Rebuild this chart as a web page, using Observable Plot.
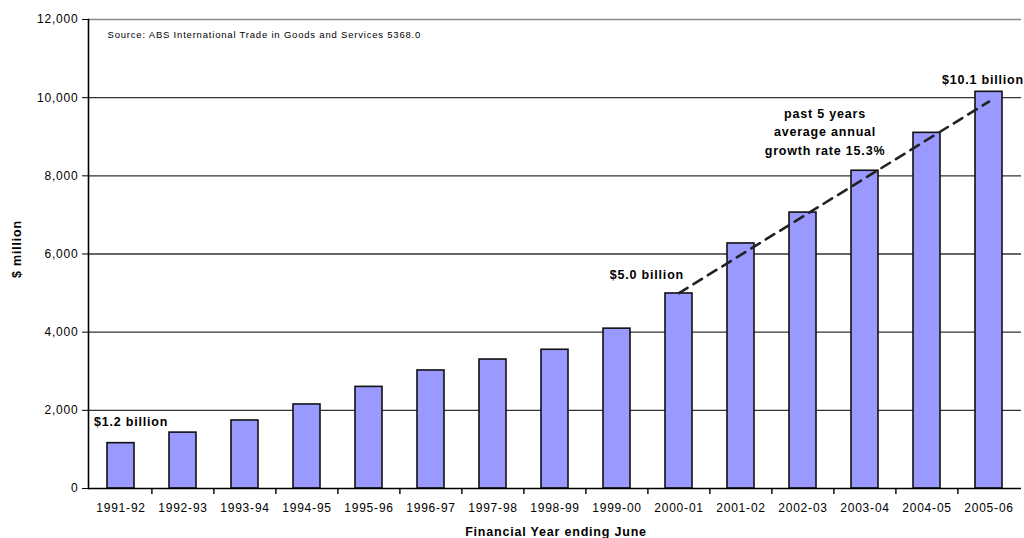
<!DOCTYPE html>
<html>
<head>
<meta charset="utf-8">
<script src="https://cdn.jsdelivr.net/npm/d3@7"></script>
<script src="https://cdn.jsdelivr.net/npm/@observablehq/plot@0.6"></script>
<style>
  html, body { margin: 0; padding: 0; background: #fff; }
  #chart svg { display: block; }
</style>
</head>
<body>
<div id="chart"></div>
<script>
// ---- data ----
const years = ["1991-92","1992-93","1993-94","1994-95","1995-96","1996-97","1997-98","1998-99","1999-00","2000-01","2001-02","2002-03","2003-04","2004-05","2005-06"];
const values = [1160, 1430, 1740, 2150, 2600, 3020, 3300, 3550, 4090, 4990, 6270, 7060, 8130, 9100, 10150];
const yTicks = [0, 2000, 4000, 6000, 8000, 10000, 12000];
const trendYears = ["2000-01", "2005-06"];
const trendValues = [5000, 9900];
const annoText = ["$1.2 billion", "$5.0 billion", "$10.1 billion", "past 5 years\naverage annual\ngrowth rate 15.3%"];
const annoYears = ["1991-92", "2000-01", "2005-06", "2002-03"];
const annoValues = [1700, 5450, 10460, 9170];
const sourceText = "Source: ABS International Trade in Goods and Services 5368.0";
const xTitle = "Financial Year ending June";
const yTitle = "$ million";

const data = years.map((year, i) => ({year, value: values[i]}));
const trend = trendYears.map((year, i) => ({year, value: trendValues[i]}));
const annos = annoText.map((text, i) => ({text, year: annoYears[i], value: annoValues[i]}));

// ---- layout ----
const W = 1024, H = 538, ML = 88, MR = 3, MT = 19, MB = 50;
const step = (W - ML - MR) / years.length;
const bold = {fontWeight: "bold", fontSize: 12.5};

const chart = Plot.plot({
  width: W, height: H,
  marginLeft: ML, marginRight: MR, marginTop: MT, marginBottom: MB,
  style: {fontFamily: "'Liberation Sans', Arial, sans-serif", fontSize: "12px", letterSpacing: "0.8px", background: "#fff", color: "#000"},
  x: {domain: years, paddingInner: 0.56, paddingOuter: 0.28, axis: null},
  y: {domain: [0, 12000], axis: null},
  marks: [
    Plot.ruleY(yTicks.filter(v => v > 0 && v < 12000), {stroke: "#333", strokeWidth: 1.4}),
    Plot.ruleY([12000], {stroke: "#8a8a8a", strokeWidth: 1.4}),
    Plot.barY(data, {x: "year", y: "value", fill: "#9999ff", stroke: "#111", strokeWidth: 1.6}),
    Plot.line(trend, {x: "year", y: "value", stroke: "#222", strokeWidth: 2.6, strokeDasharray: "10,7"}),
    Plot.ruleY([0], {stroke: "#000", strokeWidth: 1.6}),
    Plot.frame({anchor: "left", stroke: "#000", strokeWidth: 1.6}),
    Plot.axisY({ticks: yTicks, tickSize: 6, tickPadding: 4, tickFormat: d3.format(","), label: null, fontSize: 12}),
    Plot.ruleX(years.slice(1), {x: d => d, y1: 0, y2: 0, dx: -step / 2, insetBottom: -6, stroke: "#000", strokeWidth: 1.4}),
    Plot.axisX({tickSize: 0, tickPadding: 15, label: null, fontSize: 12}),
    Plot.text(annos.slice(0, 1), {x: "year", y: "value", text: "text", textAnchor: "start", dx: -27, ...bold}),
    Plot.text(annos.slice(1, 2), {x: "year", y: "value", text: "text", textAnchor: "end", dx: 5, ...bold}),
    Plot.text(annos.slice(2, 3), {x: "year", y: "value", text: "text", textAnchor: "start", dx: -47, ...bold}),
    Plot.text(annos.slice(3, 4), {x: "year", y: "value", text: "text", textAnchor: "middle", dx: 22, lineHeight: 1.48, ...bold}),
    Plot.text([sourceText], {frameAnchor: "top-left", dx: 19, dy: 15, textAnchor: "start", lineAnchor: "middle", fontSize: 9.5}),
    Plot.text([xTitle], {frameAnchor: "bottom", dx: 1, dy: 43, lineAnchor: "middle", ...bold}),
    Plot.text([yTitle], {frameAnchor: "left", dx: -72, dy: 24, rotate: -90, lineAnchor: "middle", ...bold})
  ]
});
document.getElementById("chart").append(chart);
</script>
</body>
</html>
